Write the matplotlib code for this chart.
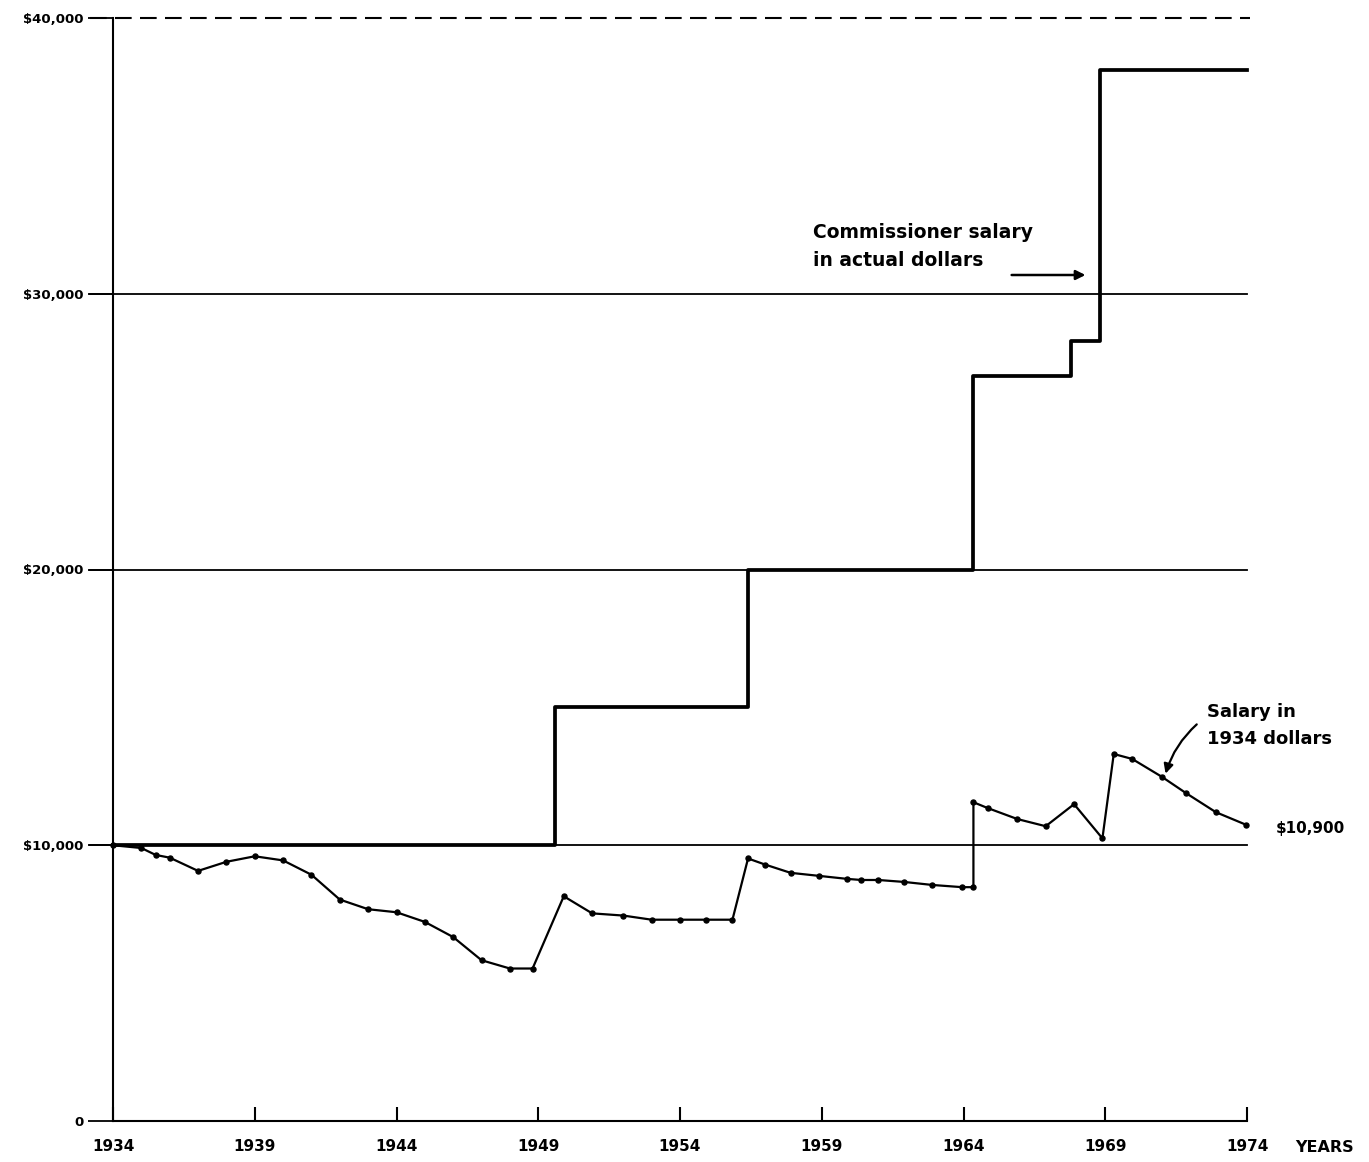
import numpy as np
import matplotlib
matplotlib.use('Agg')
import matplotlib.pyplot as plt

# salario del comisionado, dolares corrientes y dolares de 1934

step_years = [1934, 1949.6, 1956.4, 1964.35, 1967.8, 1968.8, 1974]
step_salary = [10000, 15000, 20000, 27000, 28300, 38100, 38100]

real_years = [1934, 1935, 1935.5, 1936, 1937, 1938, 1939, 1940, 1941, 1942, 1943,
              1944, 1945, 1946, 1947, 1948, 1948.8, 1949.9, 1950.9, 1952, 1953,
              1954, 1954.9, 1955.85, 1956.4, 1957, 1957.9, 1958.9, 1959.9, 1960.4,
              1961, 1961.9, 1962.9, 1963.95, 1964.35, 1964.35, 1964.85, 1965.9,
              1966.9, 1967.9, 1968.9, 1969.3, 1969.95, 1971, 1971.85, 1972.9, 1973.95]
real_salary = [10000, 9900, 9650, 9550, 9070, 9400, 9600, 9450, 8930, 8030, 7680,
               7570, 7220, 6670, 5830, 5530, 5530, 8150, 7530, 7450, 7300,
               7300, 7300, 7300, 9520, 9300, 9000, 8890, 8780, 8740,
               8740, 8670, 8560, 8480, 8480, 11560, 11350, 10950,
               10690, 11490, 10250, 13310, 13130, 12480, 11890, 11200, 10750]

year_ticks = [1934, 1939, 1944, 1949, 1954, 1959, 1964, 1969, 1974]
salary_ticks = [0, 10000, 20000, 30000, 40000]
salary_labels = ['0', '$10,000', '$20,000', '$30,000', '$40,000']

plt.rcParams['font.family'] = ['DejaVu Sans']
plt.rcParams['font.weight'] = 'bold'

fig = plt.figure(figsize=(13.69, 11.62), dpi=100)
ax = fig.add_axes([113/1369, 1-1121/1162, (1247-113)/1369, (1121-18)/1162])
ax.set_xlim(1934, 1974)
ax.set_ylim(0, 40000)

# lineas horizontales
for v in [10000, 20000, 30000]:
    ax.plot([1933.2, 1974], [v, v], color='black', lw=1.3, clip_on=False)
ax.plot([1933.2, 1974.1], [40000, 40000], color='black', lw=1.5, ls=(0, (8, 4)), clip_on=False)

ax.step(step_years, step_salary, where='post', color='black', lw=2.7, clip_on=False)
ax.plot(real_years, real_salary, color='black', lw=1.6, marker='o', ms=3.6, clip_on=False)

for s in ['top', 'right']:
    ax.spines[s].set_visible(False)
ax.spines['left'].set_linewidth(1.5)
ax.spines['bottom'].set_linewidth(1.5)

ax.set_xticks(year_ticks)
ax.set_xticklabels([str(y) for y in year_ticks], fontsize=11, fontweight='bold')
ax.tick_params(axis='x', direction='in', length=10, width=1.5, pad=13)
ax.set_yticks(salary_ticks)
ax.set_yticklabels(salary_labels, fontsize=9.5, fontweight='bold')
ax.tick_params(axis='y', direction='out', length=18, width=1.3, pad=3)

ax.text(1958.7, 32550, 'Commissioner salary\nin actual dollars', fontsize=13.5,
        fontweight='bold', va='top', ha='left', linespacing=1.55)
ax.annotate('', xy=(1968.4, 30680), xytext=(1965.6, 30680),
            arrowprops=dict(arrowstyle='-|>', color='black', lw=1.8, mutation_scale=14))

ax.text(1972.6, 15150, 'Salary in\n1934 dollars', fontsize=13, fontweight='bold',
        va='top', ha='left', linespacing=1.6, clip_on=False)
ax.annotate('', xy=(1971.1, 12500), xytext=(1972.3, 14450),
            arrowprops=dict(arrowstyle='-|>', color='black', lw=1.6, mutation_scale=14,
                            connectionstyle='arc3,rad=0.15'), annotation_clip=False)
ax.text(1975.0, 10600, '$10,900', fontsize=11, fontweight='bold', va='center', ha='left')

fig.text(1295/1369, 1-1148/1162, 'YEARS', fontsize=11.5, fontweight='bold', va='center', ha='left')

fig.savefig('out.png', dpi=100)
